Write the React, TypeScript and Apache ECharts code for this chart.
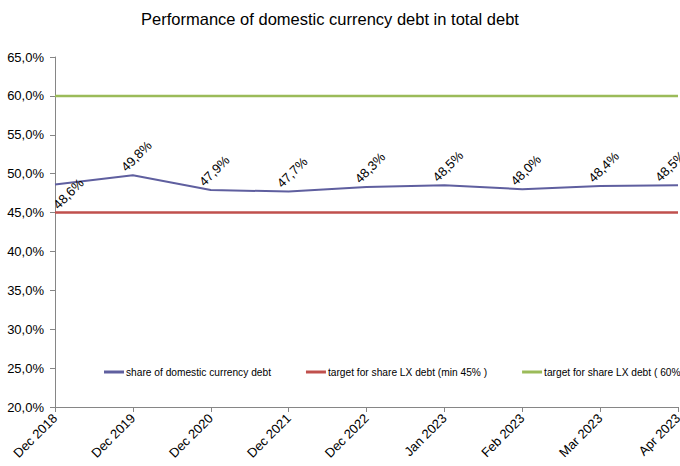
import React, { useEffect, useRef } from "react";
import * as echarts from "echarts";

const categories = ["Dec 2018", "Dec 2019", "Dec 2020", "Dec 2021", "Dec 2022", "Jan 2023", "Feb 2023", "Mar 2023", "Apr 2023"];
const domesticShare = [48.6, 49.8, 47.9, 47.7, 48.3, 48.5, 48.0, 48.4, 48.5];
const targetMin = [45, 45, 45, 45, 45, 45, 45, 45, 45];
const targetMax = [60, 60, 60, 60, 60, 60, 60, 60, 60];
const seriesNames = [
  "share of domestic currency debt",
  "target for share LX debt (min 45% )",
  "target for share LX debt ( 60% )",
];
const titleText = "Performance of domestic currency debt in total debt";

const fmt = (v: number) => v.toFixed(1).replace(".", ",") + "%";

export default function App() {
  const ref = useRef<HTMLDivElement>(null);
  useEffect(() => {
    if (!ref.current) return;
    const chart = echarts.init(ref.current, undefined, { renderer: "svg" });
    const font = "'Liberation Sans', Arial, sans-serif";
    const last = domesticShare.length - 1;
    chart.setOption({
      animation: false,
      textStyle: { fontFamily: font },
      title: {
        text: titleText,
        left: 330,
        textAlign: "center",
        top: 10,
        padding: 0,
        textStyle: { fontSize: 16.5, fontWeight: "normal", color: "#000", fontFamily: font },
      },
      legend: {
        left: 104,
        top: 367,
        width: 760,
        padding: 0,
        itemWidth: 20,
        itemHeight: 3,
        itemGap: 35,
        icon: "rect",
        textStyle: { fontSize: 10.2, color: "#000", fontFamily: font, padding: [0, 0, 0, -3] },
        data: seriesNames,
      },
      grid: { left: 55, right: 2, top: 57, bottom: 59, containLabel: false, outerBoundsMode: "none" },
      xAxis: {
        type: "category",
        data: categories,
        boundaryGap: false,
        axisLine: { lineStyle: { color: "#868686", width: 1 } },
        axisTick: { show: true, length: 5, alignWithLabel: true, lineStyle: { color: "#868686" } },
        axisLabel: { rotate: 45, fontSize: 13, color: "#000", margin: 9, fontFamily: font, interval: 0 },
        splitLine: { show: false },
      },
      yAxis: {
        type: "value",
        min: 20,
        max: 65,
        interval: 5,
        axisLine: { show: true, lineStyle: { color: "#868686", width: 1 } },
        axisTick: { show: true, length: 5, lineStyle: { color: "#868686" } },
        axisLabel: { fontSize: 13, color: "#000", margin: 11, formatter: fmt, fontFamily: font },
        splitLine: { show: false },
      },
      series: [
        {
          name: seriesNames[1],
          type: "line",
          data: targetMin,
          symbol: "none",
          lineStyle: { color: "#c0504d", width: 2.5 },
          itemStyle: { color: "#c0504d" },
          z: 2,
        },
        {
          name: seriesNames[2],
          type: "line",
          data: targetMax,
          symbol: "none",
          lineStyle: { color: "#9bbb59", width: 2.5 },
          itemStyle: { color: "#9bbb59" },
          z: 2,
        },
        {
          name: seriesNames[0],
          type: "line",
          data: domesticShare.map((v, i) =>
            i === 0
              ? { value: v, label: { offset: [3, 16] } }
              : i === last
              ? { value: v, label: { offset: [8, -19] } }
              : v
          ),
          symbol: "circle",
          symbolSize: 0.1,
          showSymbol: true,
          lineStyle: { color: "#5f5f9f", width: 2 },
          itemStyle: { color: "#5f5f9f" },
          z: 3,
          label: {
            show: true,
            position: "top",
            distance: 0,
            align: "center",
            verticalAlign: "middle",
            rotate: 45,
            offset: [16, -11],
            fontSize: 13,
            color: "#000",
            fontFamily: font,
            formatter: (p: any) => fmt(p.value),
          },
        },
      ],
    });
    return () => chart.dispose();
  }, []);
  return <div ref={ref} style={{ width: 680, height: 466, position: "absolute", left: 0, top: 0 }} />;
}
